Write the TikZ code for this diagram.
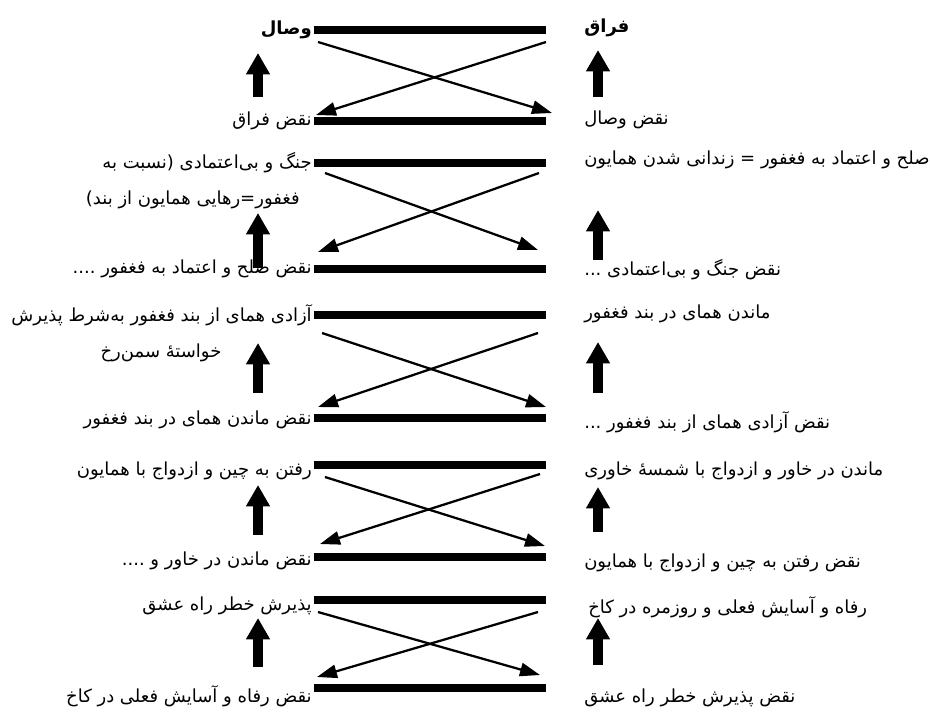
\documentclass[tikz,border=0pt]{standalone}
\usepackage{fontspec}
\usetikzlibrary{arrows.meta}
\TeXXeTstate=1
\newfontfamily\arabicfont[Script=Arabic]{DejaVu Sans}
\newfontfamily\arabicbold[Script=Arabic]{DejaVu Sans Bold}
\newcommand{\fa}[1]{{\arabicfont\beginR #1\endR}}
\newcommand{\fab}[1]{{\arabicbold\beginR #1\endR}}
\tikzset{
  lab/.style={font=\fontsize{13.5}{16}\selectfont, inner sep=0pt},
  labL/.style={lab, anchor=east},
  labR/.style={lab, anchor=west},
  bar/.style={line width=5.5pt},
  cross/.style={line width=1.7pt, -{Triangle[length=15pt,width=10pt]}},
  uparr/.style={line width=7.5pt, -{Triangle[length=16pt,width=17pt]}}
}
\begin{document}
\begin{tikzpicture}[x=0.75pt,y=-0.75pt]
\fill[white] (0,0) rectangle (930,715);
\useasboundingbox (0,0) rectangle (930,715);
% bars
\foreach \n/\y in {1t/30,1b/121,2t/163,2b/269,3t/315,3b/418,4t/465,4b/557,5t/600,5b/688}{
  \coordinate (bl\n) at (314,\y);
  \coordinate (br\n) at (546,\y);
  \draw[bar] (bl\n) -- (br\n);
}
% cross arrows
\coordinate (a1s) at (318,42);  \coordinate (a1e) at (552,113);
\coordinate (b1s) at (546,42);  \coordinate (b1e) at (316,115);
\coordinate (a2s) at (325,173); \coordinate (a2e) at (538,250);
\coordinate (b2s) at (539,173); \coordinate (b2e) at (318,252);
\coordinate (a3s) at (322,333); \coordinate (a3e) at (546,407);
\coordinate (b3s) at (538,333); \coordinate (b3e) at (318,407);
\coordinate (a4s) at (325,477); \coordinate (a4e) at (545,546);
\coordinate (b4s) at (540,474); \coordinate (b4e) at (320,544);
\coordinate (a5s) at (318,612); \coordinate (a5e) at (540,675);
\coordinate (b5s) at (538,612); \coordinate (b5e) at (317,677);
\foreach \i in {1,...,5}{
  \draw[cross] (a\i s) -- (a\i e);
  \draw[cross] (b\i s) -- (b\i e);
}
% up arrows
\foreach \i/\lt/\lb/\rt/\rb in {1/53/97/50/97, 2/213/268/210/260, 3/343/393/342/393, 4/485/535/487/532, 5/618/667/618/665}{
  \coordinate (ul\i b) at (258,\lb); \coordinate (ul\i t) at (258,\lt);
  \coordinate (ur\i b) at (598,\rb); \coordinate (ur\i t) at (598,\rt);
  \draw[uparr] (ul\i b) -- (ul\i t);
  \draw[uparr] (ur\i b) -- (ur\i t);
}
% left labels
\node[labL] (L1) at (312,30) {\fab{وصال}};
\node[labL] (L2) at (312,121) {\fa{نقض فراق}};
\node[labL] (L3) at (312,163) {\fa{جنگ و بی‌اعتمادی (نسبت به}};
\node[labL] (L3b) at (300,200) {\fa{فغفور=رهایی همایون از بند)}};
\node[labL] (L4) at (312,269) {\fa{نقض صلح و اعتماد به فغفور ....}};
\node[labL] (L5) at (312,315) {\fa{آزادی همای از بند فغفور به‌شرط پذیرش}};
\node[lab] (L5b) at (161,353) {\fa{خواستهٔ سمن‌رخ}};
\node[labL] (L6) at (312,420) {\fa{نقض ماندن همای در بند فغفور}};
\node[labL] (L7) at (312,471) {\fa{رفتن به چین و ازدواج با همایون}};
\node[labL] (L8) at (312,561) {\fa{نقض ماندن در خاور و ....}};
\node[labL] (L9) at (312,606) {\fa{پذیرش خطر راه عشق}};
\node[labL] (L10) at (312,696) {\fa{نقض رفاه و آسایش فعلی در کاخ}};
% right labels
\node[labR] (R1) at (584,28) {\fab{فراق}};
\node[labR] (R2) at (584,120) {\fa{نقض وصال}};
\node[labR] (R3) at (584,160) {\fa{صلح و اعتماد به فغفور = زندانی شدن همایون}};
\node[labR] (R4) at (584,270) {\fa{نقض جنگ و بی‌اعتمادی ...}};
\node[labR] (R5) at (584,314) {\fa{ماندن همای در بند فغفور}};
\node[labR] (R6) at (584,422) {\fa{نقض آزادی همای از بند فغفور ...}};
\node[labR] (R7) at (584,471) {\fa{ماندن در خاور و ازدواج با شمسهٔ خاوری}};
\node[labR] (R8) at (584,563) {\fa{نقض رفتن به چین و ازدواج با همایون}};
\node[labR] (R9) at (588,607) {\fa{رفاه و آسایش فعلی و روزمره در کاخ}};
\node[labR] (R10) at (584,698) {\fa{نقض پذیرش خطر راه عشق}};
\end{tikzpicture}
\end{document}
